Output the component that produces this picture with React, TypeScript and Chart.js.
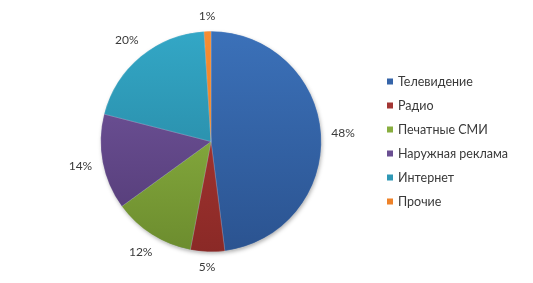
import React, { useEffect, useRef } from "react";
import { Chart, registerables } from "chart.js";

Chart.register(...registerables);

const categories = ["Телевидение", "Радио", "Печатные СМИ", "Наружная реклама", "Интернет", "Прочие"];
const shares = [48, 5, 12, 14, 20, 1];
const topColors = ["#3B71B9", "#B33C38", "#96BF48", "#7659A2", "#33A7C6", "#F68D32"];
const bottomColors = ["#2B5390", "#8A2926", "#6C8C2E", "#513973", "#247E98", "#E07A20"];
const legendColors = ["#3564A8", "#A33634", "#88AE3F", "#6A4F92", "#2F98B5", "#EE8229"];

const FONT = "Lato, 'Open Sans', sans-serif";
const TEXT_COLOR = "#3a3a3a";

const shadowPlugin = {
  id: "pieShadow",
  beforeDatasetsDraw(chart: any) {
    const arc = chart.getDatasetMeta(0).data[0];
    if (!arc) return;
    const { x, y, outerRadius } = arc.getProps(["x", "y", "outerRadius"], true);
    const ctx = chart.ctx;
    ctx.save();
    ctx.shadowColor = "rgba(0,0,0,0.35)";
    ctx.shadowBlur = 4;
    ctx.shadowOffsetX = 1;
    ctx.shadowOffsetY = 2;
    ctx.fillStyle = "#2B5390";
    ctx.beginPath();
    ctx.arc(x, y, outerRadius - 0.5, 0, Math.PI * 2);
    ctx.fill();
    ctx.restore();
  },
};

const labelPlugin = {
  id: "outsideLabels",
  afterDatasetsDraw(chart: any) {
    const ctx = chart.ctx;
    const meta = chart.getDatasetMeta(0);
    const values = chart.data.datasets[0].data as number[];
    ctx.save();
    ctx.font = `12px ${FONT}`;
    ctx.fillStyle = TEXT_COLOR;
    ctx.textAlign = "center";
    ctx.textBaseline = "middle";
    meta.data.forEach((el: any, i: number) => {
      const { x, y, startAngle, endAngle, outerRadius } = el.getProps(
        ["x", "y", "startAngle", "endAngle", "outerRadius"],
        true
      );
      const mid = (startAngle + endAngle) / 2;
      const c = Math.cos(mid);
      const s = Math.sin(mid);
      const text = `${values[i]}%`;
      const w = ctx.measureText(text).width;
      const d = outerRadius + 9 + (w / 2 + 1) * Math.abs(c) + 6 * Math.abs(s);
      ctx.fillText(text, x + c * d, y + s * d);
    });
    ctx.restore();
  },
};

const legendPlugin = {
  id: "sideLegend",
  afterDraw(chart: any) {
    const ctx = chart.ctx;
    const labels = chart.data.labels as string[];
    ctx.save();
    ctx.font = `12.5px ${FONT}`;
    ctx.textAlign = "left";
    ctx.textBaseline = "middle";
    labels.forEach((lab, i) => {
      const cy = 81.5 + i * 24;
      ctx.fillStyle = legendColors[i];
      ctx.fillRect(387, cy - 3, 6, 6);
      ctx.fillStyle = TEXT_COLOR;
      ctx.fillText(lab, 398, cy + 0.5);
    });
    ctx.restore();
  },
};

export default function App() {
  const canvasRef = useRef<HTMLCanvasElement | null>(null);

  useEffect(() => {
    const canvas = canvasRef.current;
    if (!canvas) return;
    const chart = new Chart(canvas, {
      type: "pie",
      data: {
        labels: categories,
        datasets: [
          {
            data: shares,
            backgroundColor: (ctx: any) => {
              const area = ctx.chart.chartArea;
              const i = ctx.dataIndex;
              if (!area || i === undefined) return topColors[i ?? 0];
              const g = ctx.chart.ctx.createLinearGradient(0, area.top, 0, area.bottom);
              g.addColorStop(0, topColors[i]);
              g.addColorStop(1, bottomColors[i]);
              return g;
            },
            borderColor: "rgba(255,255,255,0.35)",
            borderWidth: 0.5,
          },
        ],
      },
      options: {
        responsive: false,
        animation: false,
        layout: { padding: { left: 100, right: 211, top: 31, bottom: 31 } },
        plugins: {
          legend: { display: false },
          tooltip: { enabled: false },
        },
      },
      plugins: [shadowPlugin, labelPlugin, legendPlugin],
    });
    return () => chart.destroy();
  }, []);

  return (
    <div style={{ position: "absolute", left: 0, top: 0, width: 533, height: 283, background: "#fff" }}>
      <canvas ref={canvasRef} width={533} height={283} style={{ display: "block" }} />
    </div>
  );
}
